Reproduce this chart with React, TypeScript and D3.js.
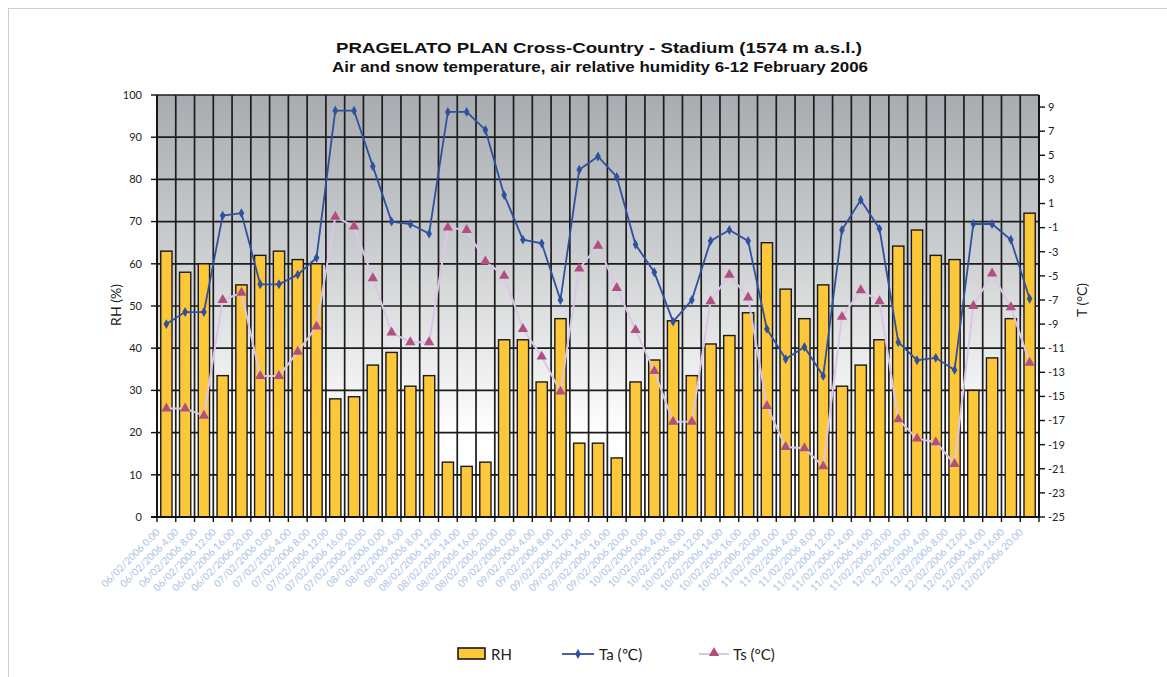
import React from "react";
import * as d3 from "d3";

// Sampling times (dd/mm/yyyy h.mm)
const timestamps = [
  "06/02/2006 0.00", "06/02/2006 4.00", "06/02/2006 8.00", "06/02/2006 12.00", "06/02/2006 16.00", "06/02/2006 20.00",
  "07/02/2006 0.00", "07/02/2006 4.00", "07/02/2006 8.00", "07/02/2006 12.00", "07/02/2006 16.00", "07/02/2006 20.00",
  "08/02/2006 0.00", "08/02/2006 4.00", "08/02/2006 8.00", "08/02/2006 12.00", "08/02/2006 14.00", "08/02/2006 16.00", "08/02/2006 20.00",
  "09/02/2006 0.00", "09/02/2006 4.00", "09/02/2006 8.00", "09/02/2006 12.00", "09/02/2006 14.00", "09/02/2006 16.00", "09/02/2006 20.00",
  "10/02/2006 0.00", "10/02/2006 4.00", "10/02/2006 8.00", "10/02/2006 12.00", "10/02/2006 14.00", "10/02/2006 16.00", "10/02/2006 20.00",
  "11/02/2006 0.00", "11/02/2006 4.00", "11/02/2006 8.00", "11/02/2006 12.00", "11/02/2006 14.00", "11/02/2006 16.00", "11/02/2006 20.00",
  "12/02/2006 0.00", "12/02/2006 4.00", "12/02/2006 8.00", "12/02/2006 12.00", "12/02/2006 14.00", "12/02/2006 16.00", "12/02/2006 20.00",
];

// Air relative humidity (%)
const rh = [
  63, 58, 60, 33.5, 55, 62, 63, 61, 60, 28, 28.5, 36, 39, 31, 33.5,
  13, 12, 13, 42, 42, 32, 47, 17.5, 17.5, 14, 32, 37.2, 46.5, 33.5, 41, 43, 48.4,
  65, 54, 47, 55, 31, 36, 42, 64.2, 68, 62, 61, 30, 37.7, 47, 72,
];

// Air temperature (°C)
const ta = [
  -9, -8, -8, 0, 0.2, -5.7, -5.7, -4.9, -3.5, 8.7, 8.7, 4.1, -0.5, -0.7, -1.5,
  8.6, 8.6, 7.1, 1.7, -2, -2.3, -7, 3.8, 4.9, 3.2, -2.4, -4.7, -8.8, -7, -2.1, -1.2, -2.1,
  -9.4, -11.9, -10.9, -13.3, -1.2, 1.3, -1.1, -10.5, -12, -11.8, -12.8, -0.7, -0.7, -2, -6.9,
];

// Snow temperature (°C)
const ts = [
  -16, -16, -16.6, -7, -6.4, -13.3, -13.3, -11.3, -9.2, -0.1, -0.9, -5.2, -9.7, -10.5, -10.5,
  -1, -1.2, -3.8, -5, -9.4, -11.7, -14.6, -4.4, -2.5, -6, -9.5, -12.9, -17.1, -17.1, -7.1, -4.9, -6.8,
  -15.8, -19.2, -19.3, -20.8, -8.4, -6.2, -7.1, -16.9, -18.5, -18.8, -20.6, -7.5, -4.8, -7.6, -12.2,
];

const rhTicks = [0, 10, 20, 30, 40, 50, 60, 70, 80, 90, 100];
const tTicks = [-25, -23, -21, -19, -17, -15, -13, -11, -9, -7, -5, -3, -1, 1, 3, 5, 7, 9];

const W = 1167;
const H = 677;
const plotLeft = 157;
const plotRight = 1039;
const plotTop = 95;
const plotBottom = 517;

const BAR_FILL = "#fdc73a";
const GRID = "#1c1c1c";
const TA_COLOR = "#2f4f9f";
const TS_LINE = "#dcc6e8";
const TS_MARK = "#b04f80";
const TICK_FONT = "Lato, 'DejaVu Sans', sans-serif";

export default function App() {
  const x = d3
    .scaleBand<string>()
    .domain(timestamps)
    .range([plotLeft, plotRight])
    .paddingInner(0.4)
    .paddingOuter(0.2);
  const yL = d3.scaleLinear().domain([0, 100]).range([plotBottom, plotTop]);
  const yR = d3.scaleLinear().domain([-25, 10]).range([plotBottom, plotTop]);

  const step = x.step();
  const cx = (i: number) => (x(timestamps[i]) as number) + x.bandwidth() / 2;
  const boundaries = d3.range(timestamps.length + 1).map((i) => plotLeft + i * step);

  const tempLine = d3
    .line<number>()
    .x((_, i) => cx(i))
    .y((d) => yR(d));

  const diamond = d3.symbol().type(d3.symbolDiamond).size(28)() as string;
  const triangle = d3.symbol().type(d3.symbolTriangle).size(46)() as string;

  return (
    <svg
      width={W}
      height={H}
      style={{ position: "absolute", left: 0, top: 0, background: "#fff" }}
    >
      <defs>
        <linearGradient id="plotBg" x1="0" y1="0" x2="0" y2="1">
          <stop offset="0" stopColor="#a8acb0" />
          <stop offset="0.35" stopColor="#c9ccce" />
          <stop offset="0.6" stopColor="#e7e8e9" />
          <stop offset="0.8" stopColor="#ffffff" />
          <stop offset="1" stopColor="#ffffff" />
        </linearGradient>
      </defs>

      {/* page frame */}
      <line x1={8.5} y1={8} x2={8.5} y2={H} stroke="#c3d0e0" strokeWidth={1} />
      <line x1={8} y1={8.5} x2={W} y2={8.5} stroke="#c3d0e0" strokeWidth={1} />

      {/* title */}
      <text
        x={599}
        y={53}
        textAnchor="middle"
        fontFamily="'Liberation Sans Narrow', 'Liberation Sans', Arial, sans-serif"
        fontWeight="bold"
        fontSize={15.5}
        textLength={526}
        lengthAdjust="spacingAndGlyphs"
        fill="#111"
      >
        PRAGELATO PLAN Cross-Country - Stadium (1574 m a.s.l.)
      </text>
      <text
        x={600}
        y={72}
        textAnchor="middle"
        fontFamily="'Liberation Sans Narrow', 'Liberation Sans', Arial, sans-serif"
        fontWeight="bold"
        fontSize={15.5}
        textLength={536}
        lengthAdjust="spacingAndGlyphs"
        fill="#111"
      >
        Air and snow temperature, air relative humidity 6-12 February 2006
      </text>

      {/* plot background */}
      <rect
        x={plotLeft}
        y={plotTop}
        width={plotRight - plotLeft}
        height={plotBottom - plotTop}
        fill="url(#plotBg)"
      />

      {/* grid */}
      {rhTicks.map((t) => (
        <line
          key={"h" + t}
          x1={plotLeft}
          x2={plotRight}
          y1={yL(t)}
          y2={yL(t)}
          stroke={GRID}
          strokeWidth={1.7}
        />
      ))}
      {boundaries.map((b, i) => (
        <line
          key={"v" + i}
          x1={b}
          x2={b}
          y1={plotTop}
          y2={plotBottom}
          stroke={GRID}
          strokeWidth={1.7}
        />
      ))}

      {/* RH bars */}
      {rh.map((v, i) => (
        <rect
          key={"b" + i}
          x={x(timestamps[i])}
          y={yL(v)}
          width={x.bandwidth()}
          height={plotBottom - yL(v)}
          fill={BAR_FILL}
          stroke="#1a1a1a"
          strokeWidth={1.4}
        />
      ))}

      {/* axes */}
      <line x1={plotLeft} x2={plotLeft} y1={plotTop} y2={plotBottom} stroke="#111" strokeWidth={1.8} />
      <line x1={plotRight} x2={plotRight} y1={plotTop} y2={plotBottom} stroke="#111" strokeWidth={1.8} />
      <line x1={plotLeft - 6} x2={plotRight} y1={plotBottom} y2={plotBottom} stroke="#111" strokeWidth={1.8} />
      {boundaries.map((b, i) => (
        <line key={"xt" + i} x1={b} x2={b} y1={plotBottom} y2={plotBottom + 5} stroke="#111" strokeWidth={1.4} />
      ))}
      {rhTicks.map((t) => (
        <g key={"lt" + t}>
          <line x1={plotLeft - 6} x2={plotLeft} y1={yL(t)} y2={yL(t)} stroke="#111" strokeWidth={1.4} />
          <text
            x={142}
            y={yL(t)}
            dy="0.35em"
            textAnchor="end"
            fontFamily={TICK_FONT}
            fontSize={11}
            fill="#222"
          >
            {t}
          </text>
        </g>
      ))}
      {tTicks.map((t) => (
        <g key={"rt" + t}>
          <line x1={plotRight} x2={plotRight + 6} y1={yR(t)} y2={yR(t)} stroke="#111" strokeWidth={1.4} />
          <text
            x={plotRight + 9}
            y={yR(t)}
            dy="0.35em"
            textAnchor="start"
            fontFamily={TICK_FONT}
            fontSize={11}
            fill="#222"
          >
            {String(t)}
          </text>
        </g>
      ))}

      {/* axis titles */}
      <text
        transform="translate(121,305) rotate(-90)"
        textAnchor="middle"
        fontFamily={TICK_FONT}
        fontSize={14}
        fill="#222"
      >
        RH (%)
      </text>
      <text
        transform="translate(1087,300) rotate(-90)"
        textAnchor="middle"
        fontFamily={TICK_FONT}
        fontSize={14}
        fill="#222"
      >
        T (°C)
      </text>

      {/* category labels */}
      {timestamps.map((d, i) => (
        <text
          key={"xl" + i}
          transform={`translate(${cx(i) - 6},${plotBottom + 16}) rotate(-45)`}
          textAnchor="end"
          fontFamily={TICK_FONT}
          fontSize={10}
          fill="#a9c2e4"
        >
          {d}
        </text>
      ))}

      {/* snow temperature */}
      <path d={tempLine(ts) as string} fill="none" stroke={TS_LINE} strokeWidth={2} />
      {ts.map((v, i) => (
        <path key={"ts" + i} d={triangle} transform={`translate(${cx(i)},${yR(v)})`} fill={TS_MARK} />
      ))}

      {/* air temperature */}
      <path d={tempLine(ta) as string} fill="none" stroke={TA_COLOR} strokeWidth={1.8} />
      {ta.map((v, i) => (
        <path key={"ta" + i} d={diamond} transform={`translate(${cx(i)},${yR(v)})`} fill={TA_COLOR} />
      ))}

      {/* legend */}
      <rect x={458} y={648} width={27} height={11} fill={BAR_FILL} stroke="#1a1a1a" strokeWidth={1.6} />
      <text x={491} y={660} fontFamily={TICK_FONT} fontSize={15} fill="#222">
        RH
      </text>
      <line x1={562} x2={594} y1={654} y2={654} stroke={TA_COLOR} strokeWidth={1.8} />
      <path d={diamond} transform="translate(578,654)" fill={TA_COLOR} />
      <text x={599} y={660} fontFamily={TICK_FONT} fontSize={15} fill="#222">
        Ta (℃)
      </text>
      <line x1={699} x2={729} y1={654} y2={654} stroke={TS_LINE} strokeWidth={2} />
      <path d={triangle} transform="translate(714,653)" fill={TS_MARK} />
      <text x={733} y={660} fontFamily={TICK_FONT} fontSize={15} fill="#222">
        Ts (°C)
      </text>
    </svg>
  );
}
